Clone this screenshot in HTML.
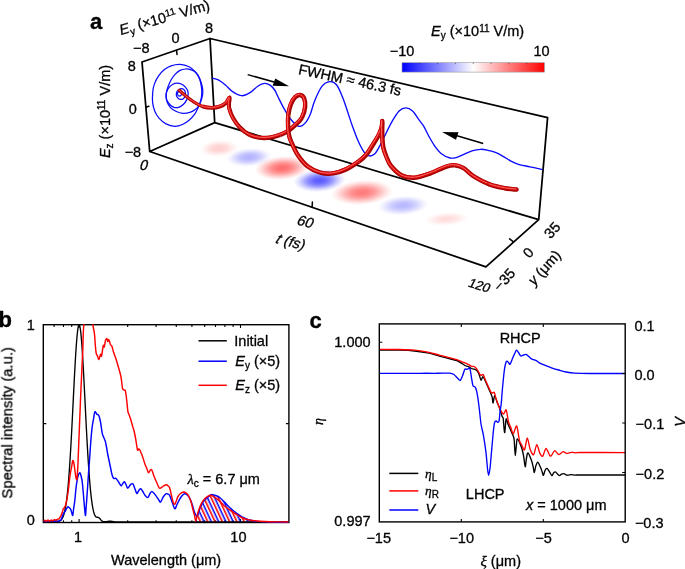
<!DOCTYPE html><html><head><meta charset="utf-8"><style>html,body{margin:0;padding:0;background:#fff;width:685px;height:569px;overflow:hidden}svg{display:block;font-family:"Liberation Sans",sans-serif}</style></head><body><svg width="685" height="569" viewBox="0 0 685 569"><rect width="685" height="569" fill="#fff"/><defs><radialGradient id="g0"><stop offset="0" stop-color="#ff2020" stop-opacity="0.22"/><stop offset="0.2" stop-color="#ff2020" stop-opacity="0.2"/><stop offset="0.4" stop-color="#ff2020" stop-opacity="0.17"/><stop offset="0.55" stop-color="#ff2020" stop-opacity="0.12"/><stop offset="0.7" stop-color="#ff2020" stop-opacity="0.07"/><stop offset="0.85" stop-color="#ff2020" stop-opacity="0.03"/><stop offset="1" stop-color="#ff2020" stop-opacity="0"/></radialGradient><radialGradient id="g1"><stop offset="0" stop-color="#2020ff" stop-opacity="0.34"/><stop offset="0.2" stop-color="#2020ff" stop-opacity="0.32"/><stop offset="0.4" stop-color="#2020ff" stop-opacity="0.26"/><stop offset="0.55" stop-color="#2020ff" stop-opacity="0.19"/><stop offset="0.7" stop-color="#2020ff" stop-opacity="0.11"/><stop offset="0.85" stop-color="#2020ff" stop-opacity="0.04"/><stop offset="1" stop-color="#2020ff" stop-opacity="0"/></radialGradient><radialGradient id="g2"><stop offset="0" stop-color="#ff2020" stop-opacity="0.66"/><stop offset="0.2" stop-color="#ff2020" stop-opacity="0.61"/><stop offset="0.4" stop-color="#ff2020" stop-opacity="0.49"/><stop offset="0.55" stop-color="#ff2020" stop-opacity="0.36"/><stop offset="0.7" stop-color="#ff2020" stop-opacity="0.22"/><stop offset="0.85" stop-color="#ff2020" stop-opacity="0.09"/><stop offset="1" stop-color="#ff2020" stop-opacity="0"/></radialGradient><radialGradient id="g3"><stop offset="0" stop-color="#2020ff" stop-opacity="0.74"/><stop offset="0.2" stop-color="#2020ff" stop-opacity="0.69"/><stop offset="0.4" stop-color="#2020ff" stop-opacity="0.55"/><stop offset="0.55" stop-color="#2020ff" stop-opacity="0.41"/><stop offset="0.7" stop-color="#2020ff" stop-opacity="0.24"/><stop offset="0.85" stop-color="#2020ff" stop-opacity="0.1"/><stop offset="1" stop-color="#2020ff" stop-opacity="0"/></radialGradient><radialGradient id="g4"><stop offset="0" stop-color="#ff2020" stop-opacity="0.6"/><stop offset="0.2" stop-color="#ff2020" stop-opacity="0.56"/><stop offset="0.4" stop-color="#ff2020" stop-opacity="0.45"/><stop offset="0.55" stop-color="#ff2020" stop-opacity="0.33"/><stop offset="0.7" stop-color="#ff2020" stop-opacity="0.2"/><stop offset="0.85" stop-color="#ff2020" stop-opacity="0.08"/><stop offset="1" stop-color="#ff2020" stop-opacity="0"/></radialGradient><radialGradient id="g5"><stop offset="0" stop-color="#2020ff" stop-opacity="0.32"/><stop offset="0.2" stop-color="#2020ff" stop-opacity="0.3"/><stop offset="0.4" stop-color="#2020ff" stop-opacity="0.24"/><stop offset="0.55" stop-color="#2020ff" stop-opacity="0.18"/><stop offset="0.7" stop-color="#2020ff" stop-opacity="0.11"/><stop offset="0.85" stop-color="#2020ff" stop-opacity="0.04"/><stop offset="1" stop-color="#2020ff" stop-opacity="0"/></radialGradient><radialGradient id="g6"><stop offset="0" stop-color="#ff2020" stop-opacity="0.16"/><stop offset="0.2" stop-color="#ff2020" stop-opacity="0.15"/><stop offset="0.4" stop-color="#ff2020" stop-opacity="0.12"/><stop offset="0.55" stop-color="#ff2020" stop-opacity="0.09"/><stop offset="0.7" stop-color="#ff2020" stop-opacity="0.05"/><stop offset="0.85" stop-color="#ff2020" stop-opacity="0.02"/><stop offset="1" stop-color="#ff2020" stop-opacity="0"/></radialGradient><linearGradient id="cb" x1="0" x2="1" y1="0" y2="0"><stop offset="0" stop-color="#0000ff"/><stop offset="0.5" stop-color="#ffffff"/><stop offset="1" stop-color="#ff0000"/></linearGradient><clipPath id="clipb"><rect x="43.3" y="323.9" width="245.6" height="199.5"/></clipPath><clipPath id="clipc"><rect x="379.3" y="323.9" width="245.9" height="198"/></clipPath><pattern id="hatch" patternUnits="userSpaceOnUse" width="6.6" height="40" patternTransform="rotate(-25)"><rect x="0" y="0" width="1.55" height="40" fill="#ff0000"/><rect x="3.3" y="0" width="1.55" height="40" fill="#0000ff"/></pattern></defs><ellipse cx="219" cy="148.4" rx="19.5" ry="8.5" transform="rotate(-4 219 148.4)" fill="url(#g0)"/><ellipse cx="249" cy="157.3" rx="23" ry="9.5" transform="rotate(-4 249 157.3)" fill="url(#g1)"/><ellipse cx="282.2" cy="168" rx="27.5" ry="12" transform="rotate(-4 282.2 168)" fill="url(#g2)"/><ellipse cx="319.5" cy="180.5" rx="26" ry="11.5" transform="rotate(-4 319.5 180.5)" fill="url(#g3)"/><ellipse cx="362" cy="192.5" rx="31" ry="12.5" transform="rotate(-4 362 192.5)" fill="url(#g4)"/><ellipse cx="403" cy="205.5" rx="26" ry="10" transform="rotate(-4 403 205.5)" fill="url(#g5)"/><ellipse cx="446.5" cy="219" rx="23" ry="7" transform="rotate(-4 446.5 219)" fill="url(#g6)"/><path d="M142 62L210 38.5M142 62L149.7 151.5M210 38.5L214.7 122.6M149.7 151.5L214.7 122.6M210 38.5L547.6 117.6M547.6 117.6L538.7 219.7M214.7 122.6L538.7 219.7M149.7 151.5L485.9 266.9M538.7 219.7L485.9 266.9" stroke="#000" stroke-width="1.75" fill="none" stroke-linecap="round" stroke-linejoin="round"/><path d="M176.5 50.2L177 54.4M145.8 107.2L148.8 106.3M312.1 207.2L312.4 201.9M513.5 241.8L509.6 238.9" stroke="#000" stroke-width="1.5" fill="none" stroke-linecap="round"/><path d="M180 64.3C183 64.45 186.53 65.43 189.1 66.7C191.67 67.97 193.65 69.97 195.4 71.9C197.15 73.83 198.48 75.95 199.6 78.3C200.72 80.65 201.57 83.72 202.1 86C202.63 88.28 202.82 90.08 202.8 92C202.78 93.92 202.42 95.75 202 97.5C201.58 99.25 200.93 100.83 200.3 102.5C199.67 104.17 199.13 105.57 198.2 107.5C197.27 109.43 196.22 111.98 194.7 114.1C193.18 116.22 191.15 118.47 189.1 120.2C187.05 121.93 184.75 123.48 182.4 124.5C180.05 125.52 177.73 126.4 175 126.3C172.27 126.2 168.63 125.22 166 123.9C163.37 122.58 161.05 120.45 159.2 118.4C157.35 116.35 156 114.27 154.9 111.6C153.8 108.93 152.95 105.73 152.6 102.4C152.25 99.07 152.53 94.57 152.8 91.6C153.07 88.63 153.27 87.17 154.2 84.6C155.13 82.03 156.75 78.67 158.4 76.2C160.05 73.73 161.98 71.53 164.1 69.8C166.22 68.07 168.45 66.72 171.1 65.8C173.75 64.88 177 64.15 180 64.3Z" stroke="#0a0aff" stroke-width="1.25" fill="none"/><path d="M180 70.4C181.7 69.55 183.63 69.1 185.5 69C187.37 68.9 189.48 69.22 191.2 69.8C192.92 70.38 194.43 71.03 195.8 72.5C197.17 73.97 198.48 76.32 199.4 78.6C200.32 80.88 200.9 83.8 201.3 86.2C201.7 88.6 201.88 90.62 201.8 93C201.72 95.38 201.33 98.33 200.8 100.5C200.27 102.67 199.52 104.52 198.6 106C197.68 107.48 196.77 108.33 195.3 109.4C193.83 110.47 191.85 111.73 189.8 112.4C187.75 113.07 185.33 113.6 183 113.4C180.67 113.2 177.92 112.22 175.8 111.2C173.68 110.18 171.8 108.98 170.3 107.3C168.8 105.62 167.48 103.15 166.8 101.1C166.12 99.05 166.18 96.78 166.2 95C166.22 93.22 166.52 91.97 166.9 90.4C167.28 88.83 167.77 87.42 168.5 85.6C169.23 83.78 170.17 81.42 171.3 79.5C172.43 77.58 173.85 75.62 175.3 74.1C176.75 72.58 178.3 71.25 180 70.4Z" stroke="#0a0aff" stroke-width="1.25" fill="none"/><path d="M176.9 83.1C178.38 83.12 180.35 83.6 181.8 84.3C183.25 85 184.6 86.18 185.6 87.3C186.6 88.42 187.38 89.72 187.8 91C188.22 92.28 188.27 93.57 188.1 95C187.93 96.43 187.57 98.05 186.8 99.6C186.03 101.15 184.83 103.02 183.5 104.3C182.17 105.58 180.38 106.78 178.8 107.3C177.22 107.82 175.47 107.82 174 107.4C172.53 106.98 171.17 105.95 170 104.8C168.83 103.65 167.67 101.97 167 100.5C166.33 99.03 166.02 97.58 166 96C165.98 94.42 166.3 92.52 166.9 91C167.5 89.48 168.6 88.03 169.6 86.9C170.6 85.77 171.68 84.83 172.9 84.2C174.12 83.57 175.42 83.08 176.9 83.1Z" stroke="#0a0aff" stroke-width="1.25" fill="none"/><path d="M180.9 88.7C181.98 88.45 183.07 89.02 183.8 89.6C184.53 90.18 185.07 91.17 185.3 92.2C185.53 93.23 185.53 94.72 185.2 95.8C184.87 96.88 184.12 98.1 183.3 98.7C182.48 99.3 181.23 99.55 180.3 99.4C179.37 99.25 178.37 98.6 177.7 97.8C177.03 97 176.37 95.72 176.3 94.6C176.23 93.48 176.53 92.08 177.3 91.1C178.07 90.12 179.82 88.95 180.9 88.7Z" stroke="#0a0aff" stroke-width="1.25" fill="none"/><path d="M179.4 91.6C179.95 91.6 180.83 91.87 181.2 92.3C181.57 92.73 181.75 93.6 181.6 94.2C181.45 94.8 180.82 95.65 180.3 95.9C179.78 96.15 178.97 96.02 178.5 95.7C178.03 95.38 177.6 94.57 177.5 94C177.4 93.43 177.58 92.7 177.9 92.3C178.22 91.9 178.85 91.6 179.4 91.6Z" stroke="#0a0aff" stroke-width="1.25" fill="none"/><path d="M212.2 78.1C213.22 78.38 216.1 78.67 218.3 79.8C220.5 80.93 223.02 82.93 225.4 84.9C227.78 86.87 229.87 89.8 232.6 91.6C235.33 93.4 238.9 95.53 241.8 95.7C244.7 95.87 247.28 94.22 250 92.6C252.72 90.98 255.72 87.53 258.1 86C260.48 84.47 262.25 83.5 264.3 83.4C266.35 83.3 268.62 84.22 270.4 85.4C272.18 86.58 273.73 88.6 275 90.5C276.27 92.4 276.48 93.77 278 96.8C279.52 99.83 281.98 104.97 284.1 108.7C286.22 112.43 288.23 116.27 290.7 119.2C293.17 122.13 296.5 125.65 298.9 126.3C301.3 126.95 303.18 125.17 305.1 123.1C307.02 121.03 308.82 117.6 310.4 113.9C311.98 110.2 312.68 105.5 314.6 100.9C316.52 96.3 319.35 89.52 321.9 86.3C324.45 83.08 327.47 81.85 329.9 81.6C332.33 81.35 334.43 82.32 336.5 84.8C338.57 87.28 340.52 92.22 342.3 96.5C344.08 100.78 345.53 105.62 347.2 110.5C348.87 115.38 350.42 120.58 352.3 125.8C354.18 131.02 356.45 137.3 358.5 141.8C360.55 146.3 362.77 150.45 364.6 152.8C366.43 155.15 367.85 155.68 369.5 155.9C371.15 156.12 372.85 155.63 374.5 154.1C376.15 152.57 377.77 149.58 379.4 146.7C381.03 143.82 382.25 140.9 384.3 136.8C386.35 132.7 389.23 126.4 391.7 122.1C394.17 117.8 396.75 113.37 399.1 111C401.45 108.63 403.55 107.9 405.8 107.9C408.05 107.9 410.43 109.05 412.6 111C414.77 112.95 416.93 117.05 418.8 119.6C420.67 122.15 422.1 123.48 423.8 126.3C425.5 129.12 427.18 133.22 429 136.5C430.82 139.78 432.7 143.17 434.7 146C436.7 148.83 438.43 151.5 441 153.5C443.57 155.5 447.43 157.37 450.1 158C452.77 158.63 454.82 157.85 457 157.3C459.18 156.75 460.7 155.78 463.2 154.7C465.7 153.62 469.08 151.7 472 150.8C474.92 149.9 478.03 149.38 480.7 149.3C483.37 149.22 485.45 149.75 488 150.3C490.55 150.85 493.5 151.6 496 152.6C498.5 153.6 500.43 154.85 503 156.3C505.57 157.75 508.57 159.88 511.4 161.3C514.23 162.72 516.9 163.88 520 164.8C523.1 165.72 526.25 166 530 166.8C533.75 167.6 540.42 169.13 542.5 169.6" stroke="#0a0aff" stroke-width="1.35" fill="none"/><path d="M179.2 90.3C180.25 91.22 183.03 93.83 185.5 95.8C187.97 97.77 191.18 100.33 194 102.1C196.82 103.87 199.42 105.43 202.4 106.4" stroke="#9c0000" stroke-width="3.16" fill="none" stroke-linecap="round"/><path d="M179.2 90.3C180.25 91.22 183.03 93.83 185.5 95.8C187.97 97.77 191.18 100.33 194 102.1C196.82 103.87 199.42 105.43 202.4 106.4" stroke="#d80606" stroke-width="2.09" fill="none" stroke-linecap="round" transform="translate(-0.38 -0.32)"/><path d="M179.2 90.3C180.25 91.22 183.03 93.83 185.5 95.8C187.97 97.77 191.18 100.33 194 102.1C196.82 103.87 199.42 105.43 202.4 106.4" stroke="#ff7474" stroke-width="0.63" fill="none" stroke-linecap="round" transform="translate(-0.44 -0.38)"/><path d="M202.4 106.4C205.38 107.37 208.92 107.9 211.9 107.9C214.88 107.9 217.92 107.23 220.3 106.4C222.68 105.57 224.65 104.37 226.2 102.9" stroke="#9c0000" stroke-width="3.85" fill="none" stroke-linecap="butt"/><path d="M202.4 106.4C205.38 107.37 208.92 107.9 211.9 107.9C214.88 107.9 217.92 107.23 220.3 106.4C222.68 105.57 224.65 104.37 226.2 102.9" stroke="#d80606" stroke-width="2.54" fill="none" stroke-linecap="butt" transform="translate(-0.46 -0.39)"/><path d="M202.4 106.4C205.38 107.37 208.92 107.9 211.9 107.9C214.88 107.9 217.92 107.23 220.3 106.4C222.68 105.57 224.65 104.37 226.2 102.9" stroke="#ff7474" stroke-width="0.77" fill="none" stroke-linecap="butt" transform="translate(-0.54 -0.46)"/><path d="M226.2 102.9C227.75 101.43 229.13 97.5 229.6 97.6C230.07 97.7 229.05 101.68 229 103.5C228.95 105.32 228.65 106.12 229.3 108.5" stroke="#9c0000" stroke-width="4.1" fill="none" stroke-linecap="butt"/><path d="M226.2 102.9C227.75 101.43 229.13 97.5 229.6 97.6C230.07 97.7 229.05 101.68 229 103.5C228.95 105.32 228.65 106.12 229.3 108.5" stroke="#d80606" stroke-width="2.7" fill="none" stroke-linecap="butt" transform="translate(-0.49 -0.41)"/><path d="M226.2 102.9C227.75 101.43 229.13 97.5 229.6 97.6C230.07 97.7 229.05 101.68 229 103.5C228.95 105.32 228.65 106.12 229.3 108.5" stroke="#ff7474" stroke-width="0.82" fill="none" stroke-linecap="butt" transform="translate(-0.57 -0.49)"/><path d="M229.3 108.5C229.95 110.88 231.2 114.72 232.9 117.8C234.6 120.88 236.87 124.25 239.5 127C242.13 129.75 245.42 132.53 248.7 134.3" stroke="#9c0000" stroke-width="4.16" fill="none" stroke-linecap="butt"/><path d="M229.3 108.5C229.95 110.88 231.2 114.72 232.9 117.8C234.6 120.88 236.87 124.25 239.5 127C242.13 129.75 245.42 132.53 248.7 134.3" stroke="#d80606" stroke-width="2.74" fill="none" stroke-linecap="butt" transform="translate(-0.5 -0.42)"/><path d="M229.3 108.5C229.95 110.88 231.2 114.72 232.9 117.8C234.6 120.88 236.87 124.25 239.5 127C242.13 129.75 245.42 132.53 248.7 134.3" stroke="#ff7474" stroke-width="0.83" fill="none" stroke-linecap="butt" transform="translate(-0.58 -0.5)"/><path d="M248.7 134.3C251.98 136.07 255.7 137.05 259.2 137.6C262.7 138.15 266.2 138.05 269.7 137.6C273.2 137.15 277.13 136 280.2 134.9" stroke="#9c0000" stroke-width="4.33" fill="none" stroke-linecap="butt"/><path d="M248.7 134.3C251.98 136.07 255.7 137.05 259.2 137.6C262.7 138.15 266.2 138.05 269.7 137.6C273.2 137.15 277.13 136 280.2 134.9" stroke="#d80606" stroke-width="2.86" fill="none" stroke-linecap="butt" transform="translate(-0.52 -0.43)"/><path d="M248.7 134.3C251.98 136.07 255.7 137.05 259.2 137.6C262.7 138.15 266.2 138.05 269.7 137.6C273.2 137.15 277.13 136 280.2 134.9" stroke="#ff7474" stroke-width="0.87" fill="none" stroke-linecap="butt" transform="translate(-0.61 -0.52)"/><path d="M280.2 134.9C283.27 133.8 285.47 132.75 288.1 131C290.73 129.25 293.7 126.6 296 124.4C298.3 122.2 300.38 120.65 301.9 117.8" stroke="#9c0000" stroke-width="4.43" fill="none" stroke-linecap="butt"/><path d="M280.2 134.9C283.27 133.8 285.47 132.75 288.1 131C290.73 129.25 293.7 126.6 296 124.4C298.3 122.2 300.38 120.65 301.9 117.8" stroke="#d80606" stroke-width="2.92" fill="none" stroke-linecap="butt" transform="translate(-0.53 -0.44)"/><path d="M280.2 134.9C283.27 133.8 285.47 132.75 288.1 131C290.73 129.25 293.7 126.6 296 124.4C298.3 122.2 300.38 120.65 301.9 117.8" stroke="#ff7474" stroke-width="0.89" fill="none" stroke-linecap="butt" transform="translate(-0.62 -0.53)"/><path d="M301.9 117.8C303.42 114.95 304.72 110.52 305.1 107.3C305.48 104.08 305.02 100.55 304.2 98.5C303.38 96.45 301.7 95.22 300.2 95" stroke="#9c0000" stroke-width="4.45" fill="none" stroke-linecap="butt"/><path d="M301.9 117.8C303.42 114.95 304.72 110.52 305.1 107.3C305.48 104.08 305.02 100.55 304.2 98.5C303.38 96.45 301.7 95.22 300.2 95" stroke="#d80606" stroke-width="2.94" fill="none" stroke-linecap="butt" transform="translate(-0.53 -0.45)"/><path d="M301.9 117.8C303.42 114.95 304.72 110.52 305.1 107.3C305.48 104.08 305.02 100.55 304.2 98.5C303.38 96.45 301.7 95.22 300.2 95" stroke="#ff7474" stroke-width="0.89" fill="none" stroke-linecap="butt" transform="translate(-0.62 -0.53)"/><path d="M300.2 95C298.7 94.78 296.75 95.67 295.2 97.2C293.65 98.73 292.05 101.2 290.9 104.2C289.75 107.2 288.77 111.4 288.3 115.2" stroke="#9c0000" stroke-width="4.44" fill="none" stroke-linecap="butt"/><path d="M300.2 95C298.7 94.78 296.75 95.67 295.2 97.2C293.65 98.73 292.05 101.2 290.9 104.2C289.75 107.2 288.77 111.4 288.3 115.2" stroke="#d80606" stroke-width="2.93" fill="none" stroke-linecap="butt" transform="translate(-0.53 -0.44)"/><path d="M300.2 95C298.7 94.78 296.75 95.67 295.2 97.2C293.65 98.73 292.05 101.2 290.9 104.2C289.75 107.2 288.77 111.4 288.3 115.2" stroke="#ff7474" stroke-width="0.89" fill="none" stroke-linecap="butt" transform="translate(-0.62 -0.53)"/><path d="M288.3 115.2C287.83 119 287.95 123.53 288.1 127C288.25 130.47 288.65 133.48 289.2 136C289.75 138.52 289.97 138.93 291.4 142.1" stroke="#9c0000" stroke-width="4.43" fill="none" stroke-linecap="butt"/><path d="M288.3 115.2C287.83 119 287.95 123.53 288.1 127C288.25 130.47 288.65 133.48 289.2 136C289.75 138.52 289.97 138.93 291.4 142.1" stroke="#d80606" stroke-width="2.92" fill="none" stroke-linecap="butt" transform="translate(-0.53 -0.44)"/><path d="M288.3 115.2C287.83 119 287.95 123.53 288.1 127C288.25 130.47 288.65 133.48 289.2 136C289.75 138.52 289.97 138.93 291.4 142.1" stroke="#ff7474" stroke-width="0.89" fill="none" stroke-linecap="butt" transform="translate(-0.62 -0.53)"/><path d="M291.4 142.1C292.83 145.27 295.12 150.98 297.8 155C300.48 159.02 303.75 163.27 307.5 166.2C311.25 169.13 316.02 171.4 320.3 172.6" stroke="#9c0000" stroke-width="4.45" fill="none" stroke-linecap="butt"/><path d="M291.4 142.1C292.83 145.27 295.12 150.98 297.8 155C300.48 159.02 303.75 163.27 307.5 166.2C311.25 169.13 316.02 171.4 320.3 172.6" stroke="#d80606" stroke-width="2.93" fill="none" stroke-linecap="butt" transform="translate(-0.53 -0.44)"/><path d="M291.4 142.1C292.83 145.27 295.12 150.98 297.8 155C300.48 159.02 303.75 163.27 307.5 166.2C311.25 169.13 316.02 171.4 320.3 172.6" stroke="#ff7474" stroke-width="0.89" fill="none" stroke-linecap="butt" transform="translate(-0.62 -0.53)"/><path d="M320.3 172.6C324.58 173.8 328.92 173.93 333.2 173.4C337.48 172.87 341.72 171.4 346 169.4C350.28 167.4 355.48 163.88 358.9 161.4" stroke="#9c0000" stroke-width="4.48" fill="none" stroke-linecap="butt"/><path d="M320.3 172.6C324.58 173.8 328.92 173.93 333.2 173.4C337.48 172.87 341.72 171.4 346 169.4C350.28 167.4 355.48 163.88 358.9 161.4" stroke="#d80606" stroke-width="2.96" fill="none" stroke-linecap="butt" transform="translate(-0.54 -0.45)"/><path d="M320.3 172.6C324.58 173.8 328.92 173.93 333.2 173.4C337.48 172.87 341.72 171.4 346 169.4C350.28 167.4 355.48 163.88 358.9 161.4" stroke="#ff7474" stroke-width="0.9" fill="none" stroke-linecap="butt" transform="translate(-0.63 -0.54)"/><path d="M358.9 161.4C362.32 158.92 364.12 157.37 366.5 154.5C368.88 151.63 371.18 147.4 373.2 144.2C375.22 141 377.2 138.05 378.6 135.3" stroke="#9c0000" stroke-width="4.49" fill="none" stroke-linecap="butt"/><path d="M358.9 161.4C362.32 158.92 364.12 157.37 366.5 154.5C368.88 151.63 371.18 147.4 373.2 144.2C375.22 141 377.2 138.05 378.6 135.3" stroke="#d80606" stroke-width="2.96" fill="none" stroke-linecap="butt" transform="translate(-0.54 -0.45)"/><path d="M358.9 161.4C362.32 158.92 364.12 157.37 366.5 154.5C368.88 151.63 371.18 147.4 373.2 144.2C375.22 141 377.2 138.05 378.6 135.3" stroke="#ff7474" stroke-width="0.9" fill="none" stroke-linecap="butt" transform="translate(-0.63 -0.54)"/><path d="M378.6 135.3C380 132.55 380.97 130.08 381.6 127.7C382.23 125.32 382.3 120.95 382.4 121C382.5 121.05 382.22 125.42 382.2 128" stroke="#9c0000" stroke-width="4.49" fill="none" stroke-linecap="butt"/><path d="M378.6 135.3C380 132.55 380.97 130.08 381.6 127.7C382.23 125.32 382.3 120.95 382.4 121C382.5 121.05 382.22 125.42 382.2 128" stroke="#d80606" stroke-width="2.97" fill="none" stroke-linecap="butt" transform="translate(-0.54 -0.45)"/><path d="M378.6 135.3C380 132.55 380.97 130.08 381.6 127.7C382.23 125.32 382.3 120.95 382.4 121C382.5 121.05 382.22 125.42 382.2 128" stroke="#ff7474" stroke-width="0.9" fill="none" stroke-linecap="butt" transform="translate(-0.63 -0.54)"/><path d="M382.2 128C382.18 130.58 382.12 133.25 382.3 136.5C382.48 139.75 382.63 144.17 383.3 147.5C383.97 150.83 385.03 153.47 386.3 156.5" stroke="#9c0000" stroke-width="4.5" fill="none" stroke-linecap="butt"/><path d="M382.2 128C382.18 130.58 382.12 133.25 382.3 136.5C382.48 139.75 382.63 144.17 383.3 147.5C383.97 150.83 385.03 153.47 386.3 156.5" stroke="#d80606" stroke-width="2.97" fill="none" stroke-linecap="butt" transform="translate(-0.54 -0.45)"/><path d="M382.2 128C382.18 130.58 382.12 133.25 382.3 136.5C382.48 139.75 382.63 144.17 383.3 147.5C383.97 150.83 385.03 153.47 386.3 156.5" stroke="#ff7474" stroke-width="0.9" fill="none" stroke-linecap="butt" transform="translate(-0.63 -0.54)"/><path d="M386.3 156.5C387.57 159.53 388.3 162.53 390.9 165.7C393.5 168.87 397.88 173.5 401.9 175.5C405.92 177.5 410.25 178.05 415 177.7" stroke="#9c0000" stroke-width="4.5" fill="none" stroke-linecap="butt"/><path d="M386.3 156.5C387.57 159.53 388.3 162.53 390.9 165.7C393.5 168.87 397.88 173.5 401.9 175.5C405.92 177.5 410.25 178.05 415 177.7" stroke="#d80606" stroke-width="2.97" fill="none" stroke-linecap="butt" transform="translate(-0.54 -0.45)"/><path d="M386.3 156.5C387.57 159.53 388.3 162.53 390.9 165.7C393.5 168.87 397.88 173.5 401.9 175.5C405.92 177.5 410.25 178.05 415 177.7" stroke="#ff7474" stroke-width="0.9" fill="none" stroke-linecap="butt" transform="translate(-0.63 -0.54)"/><path d="M415 177.7C419.75 177.35 425.28 175.22 430.4 173.4C435.52 171.58 441.7 168.15 445.7 166.8C449.7 165.45 451.48 165.12 454.4 165.3" stroke="#9c0000" stroke-width="4.5" fill="none" stroke-linecap="butt"/><path d="M415 177.7C419.75 177.35 425.28 175.22 430.4 173.4C435.52 171.58 441.7 168.15 445.7 166.8C449.7 165.45 451.48 165.12 454.4 165.3" stroke="#d80606" stroke-width="2.97" fill="none" stroke-linecap="butt" transform="translate(-0.54 -0.45)"/><path d="M415 177.7C419.75 177.35 425.28 175.22 430.4 173.4C435.52 171.58 441.7 168.15 445.7 166.8C449.7 165.45 451.48 165.12 454.4 165.3" stroke="#ff7474" stroke-width="0.9" fill="none" stroke-linecap="butt" transform="translate(-0.63 -0.54)"/><path d="M454.4 165.3C457.32 165.48 459.9 166.02 463.2 167.9C466.5 169.78 469.82 173.87 474.2 176.6C478.58 179.33 484.4 182.37 489.5 184.3" stroke="#9c0000" stroke-width="4.5" fill="none" stroke-linecap="butt"/><path d="M454.4 165.3C457.32 165.48 459.9 166.02 463.2 167.9C466.5 169.78 469.82 173.87 474.2 176.6C478.58 179.33 484.4 182.37 489.5 184.3" stroke="#d80606" stroke-width="2.97" fill="none" stroke-linecap="butt" transform="translate(-0.54 -0.45)"/><path d="M454.4 165.3C457.32 165.48 459.9 166.02 463.2 167.9C466.5 169.78 469.82 173.87 474.2 176.6C478.58 179.33 484.4 182.37 489.5 184.3" stroke="#ff7474" stroke-width="0.9" fill="none" stroke-linecap="butt" transform="translate(-0.63 -0.54)"/><path d="M489.5 184.3C494.6 186.23 500.3 187.32 504.8 188.2C509.3 189.08 514.55 189.37 516.5 189.6" stroke="#9c0000" stroke-width="4.5" fill="none" stroke-linecap="round"/><path d="M489.5 184.3C494.6 186.23 500.3 187.32 504.8 188.2C509.3 189.08 514.55 189.37 516.5 189.6" stroke="#d80606" stroke-width="2.97" fill="none" stroke-linecap="round" transform="translate(-0.54 -0.45)"/><path d="M489.5 184.3C494.6 186.23 500.3 187.32 504.8 188.2C509.3 189.08 514.55 189.37 516.5 189.6" stroke="#ff7474" stroke-width="0.9" fill="none" stroke-linecap="round" transform="translate(-0.63 -0.54)"/><path d="M247.7 74.6L275 82.3" stroke="#000" stroke-width="1.5"/><path d="M289.1 86.3L275.3 78.4L272.6 85.8Z" fill="#000"/><path d="M483.2 143.5L457 135.8" stroke="#000" stroke-width="1.5"/><path d="M442.1 131.9L458.5 132.3L456 139.8Z" fill="#000"/><rect x="402" y="62.7" width="142.4" height="9.4" fill="url(#cb)"/><rect x="402" y="62.7" width="142.4" height="9.4" fill="none" stroke="#999" stroke-width="0.6"/><path d="M419.8 62.8v1.3" stroke="#333" stroke-width="0.6"/><path d="M437.6 62.8v1.3" stroke="#333" stroke-width="0.6"/><path d="M455.4 62.8v1.3" stroke="#333" stroke-width="0.6"/><path d="M473.2 62.8v1.3" stroke="#333" stroke-width="0.6"/><path d="M491 62.8v1.3" stroke="#333" stroke-width="0.6"/><path d="M508.8 62.8v1.3" stroke="#333" stroke-width="0.6"/><path d="M526.6 62.8v1.3" stroke="#333" stroke-width="0.6"/><rect x="43.3" y="324.7" width="245.6" height="197.8" fill="none" stroke="#000" stroke-width="1.4"/><path d="M54.1 324.7v2.2M54.1 522.5v-2.2M63.46 324.7v2.2M63.46 522.5v-2.2M71.71 324.7v2.2M71.71 522.5v-2.2M127.69 324.7v2.2M127.69 522.5v-2.2M156.11 324.7v2.2M156.11 522.5v-2.2M176.27 324.7v2.2M176.27 522.5v-2.2M191.91 324.7v2.2M191.91 522.5v-2.2M204.69 324.7v2.2M204.69 522.5v-2.2M215.5 324.7v2.2M215.5 522.5v-2.2M224.86 324.7v2.2M224.86 522.5v-2.2M233.11 324.7v2.2M233.11 522.5v-2.2M79.1 324.7v3.4M79.1 522.5v-3.4M240.5 324.7v3.4M240.5 522.5v-3.4M43.3 423.6h3M288.9 423.6h-3" stroke="#000" stroke-width="1.1" fill="none"/><g clip-path="url(#clipb)"><path d="M195.8 522.5 L195.8 515 L197.3 516.2 L199.2 510.5 L201.7 504.3 L204.7 500 L207.7 497.5 L210 495.3 L212.2 494.6 L215.5 495.5 L219.7 497.5 L225 502.6 L230.5 508.3 L236.7 513.4 L242 516.8 L248.4 519.7 L258 521.4 L270 522 L288.6 522.2 L288.9 522.5" fill="url(#hatch)"/><path d="M43.2 522 L43.7 522 L44.2 522 L44.7 522 L45.2 522 L45.7 522 L46.2 522 L46.7 522 L47.2 522 L47.7 522 L48.2 522 L48.7 522 L49.2 522 L49.7 522 L50.2 522 L50.7 522 L51.2 522 L51.7 521.99 L52.2 521.99 L52.7 521.99 L53.2 521.98 L53.7 521.98 L54.2 521.97 L54.7 521.95 L55.2 521.94 L55.7 521.91 L56.2 521.88 L56.7 521.83 L57.2 521.77 L57.7 521.69 L58.2 521.58 L58.7 521.44 L59.2 521.25 L59.7 521.01 L60.2 520.71 L60.7 520.32 L61.2 519.83 L61.7 519.22 L62.2 518.46 L62.7 517.52 L63.2 516.38 L63.7 515 L64.2 513.33 L64.7 511.35 L65.2 509 L65.7 506.24 L66.2 503.04 L66.7 499.34 L67.2 495.12 L67.7 490.33 L68.2 484.95 L68.7 478.95 L69.2 472.34 L69.7 465.12 L70.2 457.3 L70.7 448.92 L71.2 440.04 L71.7 430.72 L72.2 421.06 L72.7 411.15 L73.2 401.13 L73.7 391.12 L74.2 381.28 L74.7 371.76 L75.2 362.73 L75.7 354.33 L76.2 346.73 L76.7 340.07 L77.2 334.48 L77.7 330.07 L78.2 326.94 L78.7 325.14 L79.2 324.73 L79.7 325.7 L80.2 328.03 L80.7 331.68 L81.2 336.57 L81.7 342.61 L82.2 349.66 L82.7 357.6 L83.2 366.27 L83.7 375.52 L84.2 385.19 L84.7 395.11 L85.2 405.14 L85.7 415.13 L86.2 424.96 L86.7 434.49 L87.2 443.65 L87.7 452.34 L88.2 460.5 L88.7 468.08 L89.2 475.06 L89.7 481.42 L90.2 487.17 L90.7 492.31 L91.2 496.87 L91.7 500.87 L92.2 504.36 L92.7 507.35 L93.2 509.89 L93.7 512 L94.2 513.72 L94.7 515.05 L95.2 516.03 L95.7 516.68 L96.2 517.05 L96.7 517.22 L97.2 517.26 L97.7 517.28 L98.2 517.36 L98.7 517.57 L99.2 517.93 L99.7 518.44 L100.2 519.04 L100.7 519.67 L101.2 520.26 L101.7 520.77 L102.2 521.16 L102.7 521.45 L103.2 521.63 L103.7 521.74 L104.2 521.78 L104.7 521.78 L105.2 521.75 L105.7 521.7 L106.2 521.64 L106.7 521.56 L107.2 521.49 L107.7 521.41 L108.2 521.34 L108.7 521.28 L109.2 521.24 L109.7 521.21 L110.2 521.21 L110.7 521.23 L111.2 521.27 L111.7 521.33 L112.2 521.4 L112.7 521.47 L113.2 521.55 L113.7 521.63 L114.2 521.7 L114.7 521.77 L115.2 521.82 L115.7 521.87 L116.2 521.91 L116.7 521.93 L117.2 521.96 L117.7 521.97 L118.2 521.98 L118.7 521.99 L119.2 521.99 L119.7 522 L120.2 522 L120.7 522 L121.2 522 L121.7 522 L122.2 522 L122.7 522 L123.2 522 L123.7 522 L124.2 522 L124.7 522 L125.2 522 L125.7 522 L126.2 522 L126.7 522 L127.2 522 L127.7 522 L128.2 522 L128.7 522 L129.2 522 L129.7 522 L130.2 522 L130.7 522 L131.2 522 L131.7 522 L132.2 522 L132.7 522 L133.2 522 L133.7 522 L134.2 522 L134.7 522 L135.2 522 L135.7 522 L136.2 522 L136.7 522 L137.2 522 L137.7 522 L138.2 522 L138.7 522 L139.2 522 L139.7 522 L140.2 522 L140.7 522 L141.2 522 L141.7 522 L142.2 522 L142.7 522 L143.2 522 L143.7 522 L144.2 522 L144.7 522 L145.2 522 L145.7 522 L146.2 522 L146.7 522 L147.2 522 L147.7 522 L148.2 522 L148.7 522 L149.2 522 L149.7 522 L150.2 522 L150.7 522 L151.2 522 L151.7 522 L152.2 522 L152.7 522 L153.2 522 L153.7 522 L154.2 522 L154.7 522 L155.2 522 L155.7 522 L156.2 522 L156.7 522 L157.2 522 L157.7 522 L158.2 522 L158.7 522 L159.2 522 L159.7 522 L160.2 522 L160.7 522 L161.2 522 L161.7 522 L162.2 522 L162.7 522 L163.2 522 L163.7 522 L164.2 522 L164.7 522 L165.2 522 L165.7 522 L166.2 522 L166.7 522 L167.2 522 L167.7 522 L168.2 522 L168.7 522 L169.2 522 L169.7 522 L170.2 522 L170.7 522 L171.2 522 L171.7 522 L172.2 522 L172.7 522 L173.2 522 L173.7 522 L174.2 522 L174.7 522 L175.2 522 L175.7 522 L176.2 522 L176.7 522 L177.2 522 L177.7 522 L178.2 522 L178.7 522 L179.2 522 L179.7 522 L180.2 522 L180.7 522 L181.2 522 L181.7 522 L182.2 522 L182.7 522 L183.2 522 L183.7 522 L184.2 522 L184.7 522 L185.2 522 L185.7 522 L186.2 522 L186.7 522 L187.2 522 L187.7 522 L188.2 522 L188.7 522 L189.2 522 L189.7 522 L190.2 522 L190.7 522 L191.2 522 L191.7 522 L192.2 522 L192.7 522 L193.2 522 L193.7 522 L194.2 522 L194.7 522 L195.2 522 L195.7 522 L196.2 522 L196.7 522 L197.2 522 L197.7 522 L198.2 522 L198.7 522 L199.2 522 L199.7 522 L200.2 522 L200.7 522 L201.2 522 L201.7 522 L202.2 522 L202.7 522 L203.2 522 L203.7 522 L204.2 522 L204.7 522 L205.2 522 L205.7 522 L206.2 522 L206.7 522 L207.2 522 L207.7 522 L208.2 522 L208.7 522 L209.2 522 L209.7 522 L210.2 522 L210.7 522 L211.2 522 L211.7 522 L212.2 522 L212.7 522 L213.2 522 L213.7 522 L214.2 522 L214.7 522 L215.2 522 L215.7 522 L216.2 522 L216.7 522 L217.2 522 L217.7 522 L218.2 522 L218.7 522 L219.2 522 L219.7 522 L220.2 522 L220.7 522 L221.2 522 L221.7 522 L222.2 522 L222.7 522 L223.2 522 L223.7 522 L224.2 522 L224.7 522 L225.2 522 L225.7 522 L226.2 522 L226.7 522 L227.2 522 L227.7 522 L228.2 522 L228.7 522 L229.2 522 L229.7 522 L230.2 522 L230.7 522 L231.2 522 L231.7 522 L232.2 522 L232.7 522 L233.2 522 L233.7 522 L234.2 522 L234.7 522 L235.2 522 L235.7 522 L236.2 522 L236.7 522 L237.2 522 L237.7 522 L238.2 522 L238.7 522 L239.2 522 L239.7 522 L240.2 522 L240.7 522 L241.2 522 L241.7 522 L242.2 522 L242.7 522 L243.2 522 L243.7 522 L244.2 522 L244.7 522 L245.2 522 L245.7 522 L246.2 522 L246.7 522 L247.2 522 L247.7 522 L248.2 522 L248.7 522 L249.2 522 L249.7 522 L250.2 522 L250.7 522 L251.2 522 L251.7 522 L252.2 522 L252.7 522 L253.2 522 L253.7 522 L254.2 522 L254.7 522 L255.2 522 L255.7 522 L256.2 522 L256.7 522 L257.2 522 L257.7 522 L258.2 522 L258.7 522 L259.2 522 L259.7 522 L260.2 522 L260.7 522 L261.2 522 L261.7 522 L262.2 522 L262.7 522 L263.2 522 L263.7 522 L264.2 522 L264.7 522 L265.2 522 L265.7 522 L266.2 522 L266.7 522 L267.2 522 L267.7 522 L268.2 522 L268.7 522 L269.2 522 L269.7 522 L270.2 522 L270.7 522 L271.2 522 L271.7 522 L272.2 522 L272.7 522 L273.2 522 L273.7 522 L274.2 522 L274.7 522 L275.2 522 L275.7 522 L276.2 522 L276.7 522 L277.2 522 L277.7 522 L278.2 522 L278.7 522 L279.2 522 L279.7 522 L280.2 522 L280.7 522 L281.2 522 L281.7 522 L282.2 522 L282.7 522 L283.2 522 L283.7 522 L284.2 522 L284.7 522 L285.2 522 L285.7 522 L286.2 522 L286.7 522 L287.2 522 L287.7 522 L288.2 522" stroke="#000" stroke-width="1.35" fill="none" stroke-linejoin="round"/><path d="M43.2 521.5C43.5 521.38 44.45 520.78 45 520.8C45.55 520.82 46 521.63 46.5 521.6C47 521.57 47.42 520.63 48 520.6C48.58 520.57 49.33 521.42 50 521.4C50.67 521.38 51.33 520.53 52 520.5C52.67 520.47 53.33 521.17 54 521.2C54.67 521.23 55.33 520.72 56 520.7C56.67 520.68 57.33 521.13 58 521.1C58.67 521.07 59.48 520.72 60 520.5C60.52 520.28 60.68 520.55 61.1 519.8C61.52 519.05 62.1 517.05 62.5 516C62.9 514.95 63.03 514.33 63.5 513.5C63.97 512.67 64.75 511.88 65.3 511C65.85 510.12 66.35 508.9 66.8 508.2C67.25 507.5 67.63 506.92 68 506.8C68.37 506.68 68.57 507.1 69 507.5C69.43 507.9 70.15 508.37 70.6 509.2C71.05 510.03 71.35 511.45 71.7 512.5C72.05 513.55 72.38 516.08 72.7 515.5C73.02 514.92 73.25 511.47 73.6 509C73.95 506.53 74.43 503.87 74.8 500.7C75.17 497.53 75.45 493.17 75.8 490C76.15 486.83 76.5 484.12 76.9 481.7C77.3 479.28 77.83 476.87 78.2 475.5C78.57 474.13 78.78 473.93 79.1 473.5C79.42 473.07 79.77 472.48 80.1 472.9C80.43 473.32 80.75 474.53 81.1 476C81.45 477.47 81.83 478.87 82.2 481.7C82.57 484.53 82.95 489.13 83.3 493C83.65 496.87 83.95 501.15 84.3 504.9C84.65 508.65 85.1 514.98 85.4 515.5C85.7 516.02 85.87 510.82 86.1 508C86.33 505.18 86.55 502.1 86.8 498.6C87.05 495.1 87.32 491.22 87.6 487C87.88 482.78 88.17 477.97 88.5 473.3C88.83 468.63 89.25 463.88 89.6 459C89.95 454.12 90.25 448.65 90.6 444C90.95 439.35 91.37 434.43 91.7 431.1C92.03 427.77 92.28 426.1 92.6 424C92.92 421.9 93.28 420.33 93.6 418.5C93.92 416.67 94.22 414.15 94.5 413C94.78 411.85 95 411.53 95.3 411.6C95.6 411.67 96 412.92 96.3 413.4C96.6 413.88 96.82 414.3 97.1 414.5C97.38 414.7 97.67 414.3 98 414.6C98.33 414.9 98.67 414.98 99.1 416.3C99.53 417.62 100.08 419.68 100.6 422.5C101.12 425.32 101.73 430.87 102.2 433.2C102.67 435.53 103.03 435.53 103.4 436.5C103.77 437.47 104.07 438.15 104.4 439C104.73 439.85 105.05 440.27 105.4 441.6C105.75 442.93 106.15 445.1 106.5 447C106.85 448.9 107.15 451.08 107.5 453C107.85 454.92 108.17 456.42 108.6 458.5C109.03 460.58 109.58 463.03 110.1 465.5C110.62 467.97 111.25 471.38 111.7 473.3C112.15 475.22 112.45 476.12 112.8 477C113.15 477.88 113.35 478.4 113.8 478.6C114.25 478.8 114.97 478.03 115.5 478.2C116.03 478.37 116.38 478.8 117 479.6C117.62 480.4 118.5 481.95 119.2 483C119.9 484.05 120.6 485.82 121.2 485.9C121.8 485.98 122.27 484.2 122.8 483.5C123.33 482.8 123.87 481.53 124.4 481.7C124.93 481.87 125.47 483.43 126 484.5C126.53 485.57 127.07 487.77 127.6 488.1C128.13 488.43 128.72 487.08 129.2 486.5C129.68 485.92 129.9 485.05 130.5 484.6C131.1 484.15 132.08 483.15 132.8 483.8C133.52 484.45 134.13 486.88 134.8 488.5C135.47 490.12 136.13 493.17 136.8 493.5C137.47 493.83 138.13 491.28 138.8 490.5C139.47 489.72 140.13 488.63 140.8 488.8C141.47 488.97 142.1 490.42 142.8 491.5C143.5 492.58 144.15 494.3 145 495.3C145.85 496.3 147.07 497.8 147.9 497.5C148.73 497.2 149.37 494.48 150 493.5C150.63 492.52 151.03 491.65 151.7 491.6C152.37 491.55 153.25 492.45 154 493.2C154.75 493.95 155.45 495.05 156.2 496.1C156.95 497.15 157.77 498.52 158.5 499.5C159.23 500.48 159.82 502.42 160.6 502C161.38 501.58 162.32 498.37 163.2 497C164.08 495.63 165.13 494.3 165.9 493.8C166.67 493.3 167.18 493.75 167.8 494C168.42 494.25 168.85 493.88 169.6 495.3C170.35 496.72 171.43 500.25 172.3 502.5C173.17 504.75 174.02 508.47 174.8 508.8C175.58 509.13 176.25 506 177 504.5C177.75 503 178.5 501.22 179.3 499.8C180.1 498.38 180.92 497 181.8 496C182.68 495 183.65 493.93 184.6 493.8C185.55 493.67 186.63 494.45 187.5 495.2C188.37 495.95 189.02 496.75 189.8 498.3C190.58 499.85 191.45 502.27 192.2 504.5C192.95 506.73 193.7 509.95 194.3 511.7C194.9 513.45 195.3 514.25 195.8 515C196.3 515.75 196.73 516.95 197.3 516.2C197.87 515.45 198.47 512.48 199.2 510.5C199.93 508.52 200.78 506.05 201.7 504.3C202.62 502.55 203.7 501.13 204.7 500C205.7 498.87 206.82 498.28 207.7 497.5C208.58 496.72 209.25 495.78 210 495.3C210.75 494.82 211.28 494.57 212.2 494.6C213.12 494.63 214.25 495.02 215.5 495.5C216.75 495.98 218.12 496.32 219.7 497.5C221.28 498.68 223.2 500.8 225 502.6C226.8 504.4 228.55 506.5 230.5 508.3C232.45 510.1 234.78 511.98 236.7 513.4C238.62 514.82 240.05 515.75 242 516.8C243.95 517.85 245.73 518.93 248.4 519.7C251.07 520.47 254.4 521.02 258 521.4C261.6 521.78 264.9 521.87 270 522C275.1 522.13 285.5 522.17 288.6 522.2" stroke="#0000ff" stroke-width="1.45" fill="none" stroke-linejoin="round"/><path d="M43.2 521.2C43.44 521.07 44.56 520.17 45 520.2C45.44 520.23 46.1 521.43 46.5 521.4C46.9 521.37 47.6 520.01 48 520C48.4 519.99 49.1 521.29 49.5 521.3C49.9 521.31 50.57 520.17 51 520.1C51.43 520.03 52.23 520.87 52.7 520.8C53.17 520.73 54.06 519.68 54.5 519.6C54.94 519.52 55.6 520.25 56 520.2C56.4 520.15 57.1 519.37 57.5 519.2C57.9 519.03 58.64 519.19 59 518.9C59.36 518.61 59.92 517.45 60.2 517C60.48 516.55 60.83 516.09 61.1 515.5C61.37 514.91 61.92 513.44 62.2 512.6C62.48 511.76 62.93 509.84 63.2 509.2C63.47 508.56 63.92 508.23 64.2 507.8C64.48 507.37 65.01 506.77 65.3 506C65.59 505.23 66.12 503.27 66.4 502C66.68 500.73 67.12 498.23 67.4 496.5C67.68 494.77 68.22 491.25 68.5 489C68.78 486.75 69.22 481.87 69.5 479.6C69.78 477.33 70.32 473.68 70.6 472C70.88 470.32 71.32 468.52 71.6 467C71.88 465.48 72.45 461.33 72.7 460.6C72.95 459.87 73.3 460.93 73.5 461.5C73.7 462.07 74 463.63 74.2 464.9C74.4 466.17 74.77 469.32 75 471C75.23 472.68 75.65 476.35 75.9 477.5C76.15 478.65 76.69 480.33 76.9 479.6C77.11 478.87 77.35 474.25 77.5 472C77.65 469.75 77.8 467.31 78 462.7C78.2 458.09 78.77 443.09 79 437.4C79.23 431.71 79.5 424.99 79.7 420C79.9 415.01 80.25 406 80.5 400C80.75 394 81.29 381.67 81.6 375C81.91 368.33 82.44 357.07 82.8 350C83.16 342.93 83.05 325.73 84.3 322C85.55 318.27 91.01 321.33 92.2 322C93.39 322.67 92.89 325.4 93.2 327C93.51 328.6 94.22 331.6 94.5 334C94.78 336.4 95.07 342.41 95.3 345C95.53 347.59 95.91 351.93 96.2 353.4C96.49 354.87 97.14 355.19 97.5 356C97.86 356.81 98.49 359.73 98.9 359.5C99.31 359.27 100.24 354.77 100.6 354.3C100.96 353.83 101.24 357.17 101.6 356C101.96 354.83 102.94 346.7 103.3 345.5C103.66 344.3 104.01 347.67 104.3 347C104.59 346.33 105.17 341.63 105.5 340.5C105.83 339.37 106.49 338.37 106.8 338.5C107.11 338.63 107.56 341.37 107.8 341.5C108.04 341.63 108.39 339.55 108.6 339.5C108.81 339.45 109.16 340.43 109.4 341.1C109.64 341.77 110.05 343.79 110.4 344.5C110.75 345.21 111.59 345.4 112 346.4C112.41 347.4 113.02 350.48 113.5 352C113.98 353.52 115.03 356.07 115.6 357.8C116.17 359.53 117.21 363.01 117.8 365C118.39 366.99 119.55 370.97 120 372.7C120.45 374.43 120.96 376.63 121.2 378C121.44 379.37 121.61 381.56 121.8 383C121.99 384.44 122.31 387.87 122.6 388.8C122.89 389.73 123.64 389.77 124 390C124.36 390.23 125.01 389.7 125.3 390.5C125.59 391.3 125.97 394.36 126.2 396C126.43 397.64 126.77 400.72 127 402.8C127.23 404.88 127.61 409.97 127.9 411.6C128.19 413.23 128.85 414.05 129.2 415C129.55 415.95 130.02 417.11 130.5 418.7C130.98 420.29 132.32 425.26 132.8 426.9C133.28 428.54 133.74 429.52 134.1 431C134.46 432.48 135.14 436 135.5 438C135.86 440 136.52 444.36 136.8 446C137.08 447.64 137.36 449.9 137.6 450.3C137.84 450.7 138.32 449.08 138.6 449C138.88 448.92 139.39 449.23 139.7 449.7C140.01 450.17 140.59 451.79 140.9 452.5C141.21 453.21 141.65 454.07 142 455C142.35 455.93 143.11 458.31 143.5 459.5C143.89 460.69 144.46 462.7 144.9 463.9C145.34 465.1 146.35 467.34 146.8 468.5C147.25 469.66 147.94 472.2 148.3 472.6C148.66 473 149.21 471.87 149.5 471.5C149.79 471.13 150.21 470.01 150.5 469.8C150.79 469.59 151.39 469.54 151.7 469.9C152.01 470.26 152.51 471.7 152.8 472.5C153.09 473.3 153.41 474.63 153.9 475.9C154.39 477.17 155.81 480.41 156.5 482C157.19 483.59 158.55 487 159.1 487.8C159.65 488.6 160.2 488.09 160.6 488C161 487.91 161.61 487.43 162.1 487.1C162.59 486.77 163.7 485.81 164.3 485.5C164.9 485.19 166.08 484.73 166.6 484.8C167.12 484.87 167.8 485.6 168.2 486C168.6 486.4 169.16 486.53 169.6 487.8C170.04 489.07 171.01 493.5 171.5 495.5C171.99 497.5 172.86 501.63 173.3 502.8C173.74 503.97 174.4 504.54 174.8 504.3C175.2 504.06 175.9 502 176.3 501C176.7 500 177.24 497.8 177.8 496.8C178.36 495.8 179.7 494.14 180.5 493.5C181.3 492.86 183.04 492.07 183.8 492C184.56 491.93 185.6 492.56 186.2 493C186.8 493.44 187.79 494.5 188.3 495.3C188.81 496.1 189.6 498 190 499C190.4 500 190.93 501.47 191.3 502.8C191.67 504.13 192.4 507.41 192.8 509C193.2 510.59 193.9 513.06 194.3 514.7C194.7 516.34 195.4 521.3 195.8 521.3C196.2 521.3 196.81 516.47 197.3 514.7C197.79 512.93 198.91 509.59 199.5 508C200.09 506.41 201.03 504 201.7 502.8C202.37 501.6 203.7 499.85 204.5 499C205.3 498.15 206.99 496.91 207.7 496.4C208.41 495.89 209.23 495.31 209.8 495.2C210.37 495.09 211.24 495.25 212 495.6C212.76 495.95 214.59 497.15 215.5 497.8C216.41 498.45 217.93 499.74 218.8 500.5C219.67 501.26 221.11 502.66 222 503.5C222.89 504.34 224.3 505.83 225.5 506.8C226.7 507.77 229.53 509.8 231 510.8C232.47 511.8 234.95 513.34 236.5 514.3C238.05 515.26 240.8 517.23 242.6 518C244.4 518.77 247.68 519.67 250 520.1C252.32 520.53 257.33 520.99 260 521.2C262.67 521.41 266.19 521.59 270 521.7C273.81 521.81 286.12 521.96 288.6 522" stroke="#ff0000" stroke-width="1.45" fill="none" stroke-linejoin="round"/></g><path d="M198.5 340.8H226.8" stroke="#000" stroke-width="1.5"/><path d="M198.5 361.2H226.8" stroke="#0000ff" stroke-width="1.5"/><path d="M198.5 385.3H226.8" stroke="#ff0000" stroke-width="1.5"/><g clip-path="url(#clipc)"><path d="M379.3 350.1C382.05 350.11 395.21 350.08 399.9 350.2C404.59 350.32 410.61 350.6 414.5 351C418.39 351.4 425.79 352.52 429.1 353.2C432.41 353.88 436.77 355.41 439.3 356.1C441.83 356.79 445.77 357.79 448.1 358.4C450.43 359.01 454.85 359.95 456.8 360.7C458.75 361.45 461.61 363.36 462.7 364C463.79 364.64 464.2 365.14 465 365.5C465.8 365.86 467.87 366.3 468.7 366.7C469.53 367.1 470.47 368.17 471.2 368.5C471.93 368.83 473.39 368.87 474.2 369.2C475.01 369.53 476.62 370.23 477.3 371C477.98 371.77 478.81 373.77 479.3 375C479.79 376.23 480.52 379.99 481 380.2C481.48 380.41 482.33 376.51 482.9 376.6C483.47 376.69 484.41 379.02 485.3 380.9C486.19 382.78 488.69 388.57 489.6 390.7C490.51 392.83 491.63 395.26 492.1 396.9C492.57 398.54 492.77 403.17 493.1 403C493.43 402.83 494.08 395.73 494.6 395.6C495.12 395.47 496.35 400.35 497 402C497.65 403.65 498.83 406.13 499.5 408C500.17 409.87 501.51 414.6 502 416C502.49 417.4 502.91 416.63 503.2 418.5C503.49 420.37 503.99 428.13 504.2 430C504.41 431.87 504.63 433.17 504.8 432.5C504.97 431.83 505.31 426.85 505.5 425C505.69 423.15 505.84 418.67 506.2 418.6C506.56 418.53 507.64 423.05 508.2 424.5C508.76 425.95 509.64 427.7 510.4 429.5C511.16 431.3 513.34 435.67 513.9 438C514.46 440.33 514.41 444.67 514.6 447C514.79 449.33 515.09 455.5 515.3 455.5C515.51 455.5 515.92 449.21 516.2 447C516.48 444.79 516.68 438.79 517.4 438.9C518.12 439.01 520.77 445.52 521.6 447.8C522.43 450.08 523.12 453.47 523.6 456C524.08 458.53 524.81 466.53 525.2 466.8C525.59 467.07 526.13 459.85 526.5 458C526.87 456.15 527.33 452.57 528 452.9C528.67 453.23 530.81 458.62 531.5 460.5C532.19 462.38 532.83 465.39 533.2 467C533.57 468.61 533.95 472.73 534.3 472.6C534.65 472.47 535.33 467.4 535.8 466C536.27 464.6 537.16 461.9 537.8 462.1C538.44 462.3 540.01 466.18 540.6 467.5C541.19 468.82 541.83 470.95 542.2 472C542.57 473.05 543.03 475.6 543.4 475.4C543.77 475.2 544.52 471.43 545 470.5C545.48 469.57 546.4 468.23 547 468.4C547.6 468.57 548.85 470.84 549.5 471.8C550.15 472.76 551.37 475.44 551.9 475.6C552.43 475.76 553.03 473.49 553.5 473C553.97 472.51 554.87 471.77 555.4 471.9C555.93 472.03 556.94 473.51 557.5 474C558.06 474.49 559.07 475.57 559.6 475.6C560.13 475.63 560.94 474.47 561.5 474.2C562.06 473.93 563.2 473.52 563.8 473.6C564.4 473.68 565.44 474.59 566 474.8C566.56 475.01 567.25 475.23 568 475.2C568.75 475.17 570.67 474.61 571.6 474.6C572.53 474.59 573.88 475.05 575 475.1C576.12 475.15 573.31 475.01 580 475C586.69 474.99 619.17 475 625.2 475" stroke="#000" stroke-width="1.35" fill="none" stroke-linejoin="round"/><path d="M379.3 349.4C382.05 349.41 395.21 349.39 399.9 349.5C404.59 349.61 410.61 349.83 414.5 350.2C418.39 350.57 425.79 351.65 429.1 352.3C432.41 352.95 436.77 354.42 439.3 355.1C441.83 355.78 445.77 356.8 448.1 357.4C450.43 358 454.85 358.97 456.8 359.6C458.75 360.23 461.61 361.67 462.7 362.1C463.79 362.53 464.2 362.47 465 362.8C465.8 363.13 467.79 364.12 468.7 364.6C469.61 365.08 471.07 366.15 471.8 366.4C472.53 366.65 473.47 366.07 474.2 366.5C474.93 366.93 476.47 368.45 477.3 369.6C478.13 370.75 479.61 374.45 480.4 375.1C481.19 375.75 482.63 374.09 483.2 374.5C483.77 374.91 484.01 376.56 484.7 378.2C485.39 379.84 487.49 384.83 488.4 386.8C489.31 388.77 490.71 392.25 491.5 393C492.29 393.75 493.73 391.75 494.3 392.4C494.87 393.05 495.11 395.85 495.8 397.9C496.49 399.95 498.49 405.64 499.5 407.8C500.51 409.96 502.51 413.83 503.4 414.1C504.29 414.37 505.55 408.87 506.2 409.8C506.85 410.73 507.69 418.74 508.3 421.1C508.91 423.46 510.15 425.81 510.8 427.5C511.45 429.19 512.41 434 513.2 433.8C513.99 433.6 515.86 425.07 516.7 426C517.54 426.93 518.79 438.2 519.5 440.8C520.21 443.4 521.33 444.29 522 445.5C522.67 446.71 523.79 450.9 524.5 449.9C525.21 448.9 526.55 438.09 527.3 438C528.05 437.91 529.26 446.96 530.1 449.2C530.94 451.44 532.71 455.4 533.6 454.8C534.49 454.2 535.96 444.89 536.8 444.7C537.64 444.51 539.11 451.87 539.9 453.4C540.69 454.93 541.89 456.85 542.7 456.2C543.51 455.55 545.05 448.59 546 448.5C546.95 448.41 549.07 454.57 549.8 455.5C550.53 456.43 550.85 456.15 551.5 455.5C552.15 454.85 553.71 450.72 554.7 450.6C555.69 450.48 557.78 454.47 558.9 454.6C560.02 454.73 562.07 451.76 563.1 451.6C564.13 451.44 565.47 453.31 566.6 453.4C567.73 453.49 570.35 452.38 571.6 452.3C572.85 452.22 574.88 452.77 576 452.8C577.12 452.83 573.44 452.53 580 452.5C586.56 452.47 619.17 452.59 625.2 452.6" stroke="#ff0000" stroke-width="1.35" fill="none" stroke-linejoin="round"/><path d="M379.3 373.4C382.06 373.4 394.57 373.41 400 373.4C405.43 373.39 415.33 373.31 420 373.3C424.67 373.29 431.8 373.31 435 373.3C438.2 373.29 442.07 373.21 444 373.2C445.93 373.19 448.18 373.03 449.5 373.2C450.82 373.37 452.82 373.83 453.9 374.5C454.98 375.17 456.75 377.41 457.6 378.2C458.45 378.99 459.62 380.79 460.3 380.4C460.98 380.01 462.09 376.81 462.7 375.3C463.31 373.79 464.33 369.89 464.9 369.1C465.47 368.31 466.43 369.55 467 369.4C467.57 369.25 468.76 367.87 469.2 368C469.64 368.13 469.95 368.85 470.3 370.4C470.65 371.95 471.44 377.55 471.8 379.6C472.16 381.65 472.51 384.73 473 385.8C473.49 386.87 474.93 386.45 475.5 387.6C476.07 388.75 476.81 391.68 477.3 394.4C477.79 397.12 478.71 404.05 479.2 408C479.69 411.95 480.44 420.39 481 424C481.56 427.61 482.73 431.27 483.4 435.1C484.07 438.93 485.45 448.25 486 452.7C486.55 457.15 487.15 465.49 487.5 468.5C487.85 471.51 488.27 475.3 488.6 475.3C488.93 475.3 489.71 470.54 490 468.5C490.29 466.46 490.51 463.28 490.8 460C491.09 456.72 491.84 447.9 492.2 443.9C492.56 439.9 493.18 432.85 493.5 430C493.82 427.15 494.24 423.7 494.6 422.5C494.96 421.3 495.79 421.03 496.2 421C496.61 420.97 497.31 422.33 497.7 422.3C498.09 422.27 498.78 422.31 499.1 420.8C499.42 419.29 499.82 413.24 500.1 411C500.38 408.76 500.87 407.2 501.2 404C501.53 400.8 502.17 391.56 502.6 387C503.03 382.44 503.91 373.19 504.4 369.8C504.89 366.41 505.81 362.64 506.3 361.6C506.79 360.56 507.61 361.65 508.1 362C508.59 362.35 509.43 364.64 510 364.2C510.57 363.76 511.83 359.99 512.4 358.7C512.97 357.41 513.77 355.63 514.3 354.5C514.83 353.37 515.84 350.47 516.4 350.2C516.96 349.93 517.91 351.73 518.5 352.5C519.09 353.27 520.13 355.67 520.8 356C521.47 356.33 522.79 355.21 523.5 355C524.21 354.79 525.39 354.2 526.1 354.4C526.81 354.6 528.09 355.91 528.8 356.5C529.51 357.09 530.35 358.23 531.4 358.8C532.45 359.37 535.69 360.29 536.7 360.8C537.71 361.31 538.03 362.05 539 362.6C539.97 363.15 542.81 364.39 544 364.9C545.19 365.41 546.7 365.95 547.9 366.4C549.1 366.85 551.4 367.78 553 368.3C554.6 368.82 558.17 369.81 559.9 370.3C561.63 370.79 564.01 371.61 566 372C567.99 372.39 571.63 373 574.8 373.2C577.97 373.4 583.08 373.46 589.8 373.5C596.52 373.54 620.48 373.5 625.2 373.5" stroke="#0000ff" stroke-width="1.35" fill="none" stroke-linejoin="round"/></g><rect x="379.3" y="323.9" width="245.9" height="198" fill="none" stroke="#000" stroke-width="1.4"/><path d="M461.3 323.9v3M461.3 521.9v-3M543.3 323.9v3M543.3 521.9v-3M379.3 342.2h3M625.2 373.5h-3M625.2 423h-3M625.2 472.5h-3" stroke="#000" stroke-width="1.1" fill="none"/><path d="M389.3 473.4H418.3" stroke="#000" stroke-width="1.5"/><path d="M389.3 490.9H418.3" stroke="#ff0000" stroke-width="1.5"/><path d="M389.3 510H418.3" stroke="#0000ff" stroke-width="1.5"/><g font-family="Liberation Sans, sans-serif" fill="#000" stroke="#000" stroke-width="0.32" style="opacity:0.995"><text x="90" y="29" font-size="22" text-anchor="start" font-weight="bold">a</text><text x="-1.5" y="327.3" font-size="22" text-anchor="start" font-weight="bold">b</text><text x="309.5" y="328.3" font-size="22" text-anchor="start" font-weight="bold">c</text><text transform="translate(121.1 35) rotate(-16)" font-size="14.5"><tspan font-style="italic">E</tspan><tspan font-size="10" dy="3">y</tspan><tspan dy="-3"> (×10</tspan><tspan font-size="10" dy="-5">11</tspan><tspan dy="5"> V/m)</tspan></text><text x="141.2" y="53" font-size="14.5" text-anchor="middle" >−8</text><text x="175.5" y="43" font-size="14.5" text-anchor="middle" >0</text><text x="209.1" y="32.8" font-size="14.5" text-anchor="middle" >8</text><text transform="translate(110.2 111.5) rotate(-90)" font-size="14.5" text-anchor="middle"><tspan font-style="italic">E</tspan><tspan font-size="10" dy="3">z</tspan><tspan dy="-3"> (×10</tspan><tspan font-size="10" dy="-5">11</tspan><tspan dy="5"> V/m)</tspan></text><text x="131.7" y="70.5" font-size="14.5" text-anchor="middle" >8</text><text x="132.9" y="114" font-size="14.5" text-anchor="middle" >0</text><text x="132.9" y="157.3" font-size="14.5" text-anchor="middle" >−8</text><text transform="translate(143.1 169.8) skewX(-14)" font-size="14.5" text-anchor="middle">0</text><text transform="translate(303.5 226.3) rotate(14) skewX(-12)" font-size="14.5" text-anchor="middle">60</text><text transform="translate(288.8 246.3) rotate(14) skewX(-12)" font-size="14.5" text-anchor="middle"><tspan font-style="italic">t</tspan> (fs)</text><text transform="translate(477.5 289.5) rotate(17) skewX(-10)" font-size="13" text-anchor="middle">120</text><text transform="translate(508 283) rotate(-48)" font-size="14.5" text-anchor="middle">−35</text><text transform="translate(532 256) rotate(-48)" font-size="14.5" text-anchor="middle">0</text><text transform="translate(556 233.5) rotate(-48)" font-size="14.5" text-anchor="middle">35</text><text transform="translate(548 271) rotate(-48)" font-size="14.5" text-anchor="middle"><tspan font-style="italic">y</tspan> (μm)</text><text transform="translate(297.7 73.9) rotate(12)" font-size="14.5">FWHM ≈ 46.3 fs</text><text x="402" y="56" font-size="14.5" text-anchor="middle" >−10</text><text x="541.6" y="56" font-size="14.5" text-anchor="middle" >10</text><text x="431" y="36.1" font-size="14.5"><tspan font-style="italic">E</tspan><tspan font-size="10" dy="3">y</tspan><tspan dy="-3"> (×10</tspan><tspan font-size="10" dy="-4">11</tspan><tspan dy="4"> V/m)</tspan></text><text x="34.9" y="330" font-size="14.5" text-anchor="end" >1</text><text x="34.9" y="525.4" font-size="14.5" text-anchor="end" >0</text><text x="78" y="542.2" font-size="14.5" text-anchor="middle" >1</text><text x="238.4" y="542.2" font-size="14.5" text-anchor="middle" >10</text><text x="166.1" y="565" font-size="14.5" text-anchor="middle" >Wavelength (μm)</text><text transform="translate(12.3 422.8) rotate(-90)" font-size="14.8" text-anchor="middle">Spectral intensity (a.u.)</text><text x="234.3" y="345.6" font-size="14.5" text-anchor="start" >Initial</text><text x="235.3" y="366" font-size="14.5"><tspan font-style="italic">E</tspan><tspan font-size="10" dy="3">y</tspan><tspan dy="-3"> (×5)</tspan></text><text x="235.3" y="390" font-size="14.5"><tspan font-style="italic">E</tspan><tspan font-size="10" dy="3">z</tspan><tspan dy="-3"> (×5)</tspan></text><text x="187.5" y="484" font-size="14.5"><tspan font-family="Liberation Serif, serif" font-style="italic">λ</tspan><tspan font-size="10" dy="3">c</tspan><tspan dy="-3"> = 6.7 μm</tspan></text><text x="370.6" y="347.1" font-size="14.5" text-anchor="end" >1.000</text><text x="370.6" y="525.9" font-size="14.5" text-anchor="end" >0.997</text><text transform="translate(322.8 421.5) rotate(-90)" font-size="14" text-anchor="middle" font-family="Liberation Serif, serif" font-style="italic">η</text><text x="378.7" y="542.6" font-size="14.5" text-anchor="middle" >−15</text><text x="461.7" y="542.6" font-size="14.5" text-anchor="middle" >−10</text><text x="543.5" y="542.6" font-size="14.5" text-anchor="middle" >−5</text><text x="625.6" y="542.6" font-size="14.5" text-anchor="middle" >0</text><text x="500.7" y="565.8" font-size="14.5" text-anchor="middle"><tspan font-family="Liberation Serif, serif" font-style="italic" font-size="15">ξ</tspan> (μm)</text><text x="634.4" y="331" font-size="14.5" text-anchor="start" >0.1</text><text x="634.4" y="379.6" font-size="14.5" text-anchor="start" >0.0</text><text x="635.6" y="429.4" font-size="14.5" text-anchor="start" >−0.1</text><text x="635.6" y="479.2" font-size="14.5" text-anchor="start" >−0.2</text><text x="634.9" y="527.8" font-size="14.5" text-anchor="start" >−0.3</text><text transform="translate(685 422) rotate(-90)" font-size="14.5" text-anchor="middle" font-style="italic">V</text><text x="520.2" y="343.4" font-size="14.5" text-anchor="middle" >RHCP</text><text x="485.2" y="499.3" font-size="14.5" text-anchor="middle" >LHCP</text><text x="526" y="509.6" font-size="14.5"><tspan font-style="italic">x</tspan> = 1000 μm</text><text x="425" y="477.5" font-size="14.5"><tspan font-family="Liberation Serif, serif" font-style="italic" font-size="13.5">η</tspan><tspan font-size="10" dy="3">L</tspan></text><text x="425" y="495" font-size="14.5"><tspan font-family="Liberation Serif, serif" font-style="italic" font-size="13.5">η</tspan><tspan font-size="10" dy="3">R</tspan></text><text x="425.6" y="513.7" font-size="14.5" font-style="italic">V</text></g></svg></body></html>
